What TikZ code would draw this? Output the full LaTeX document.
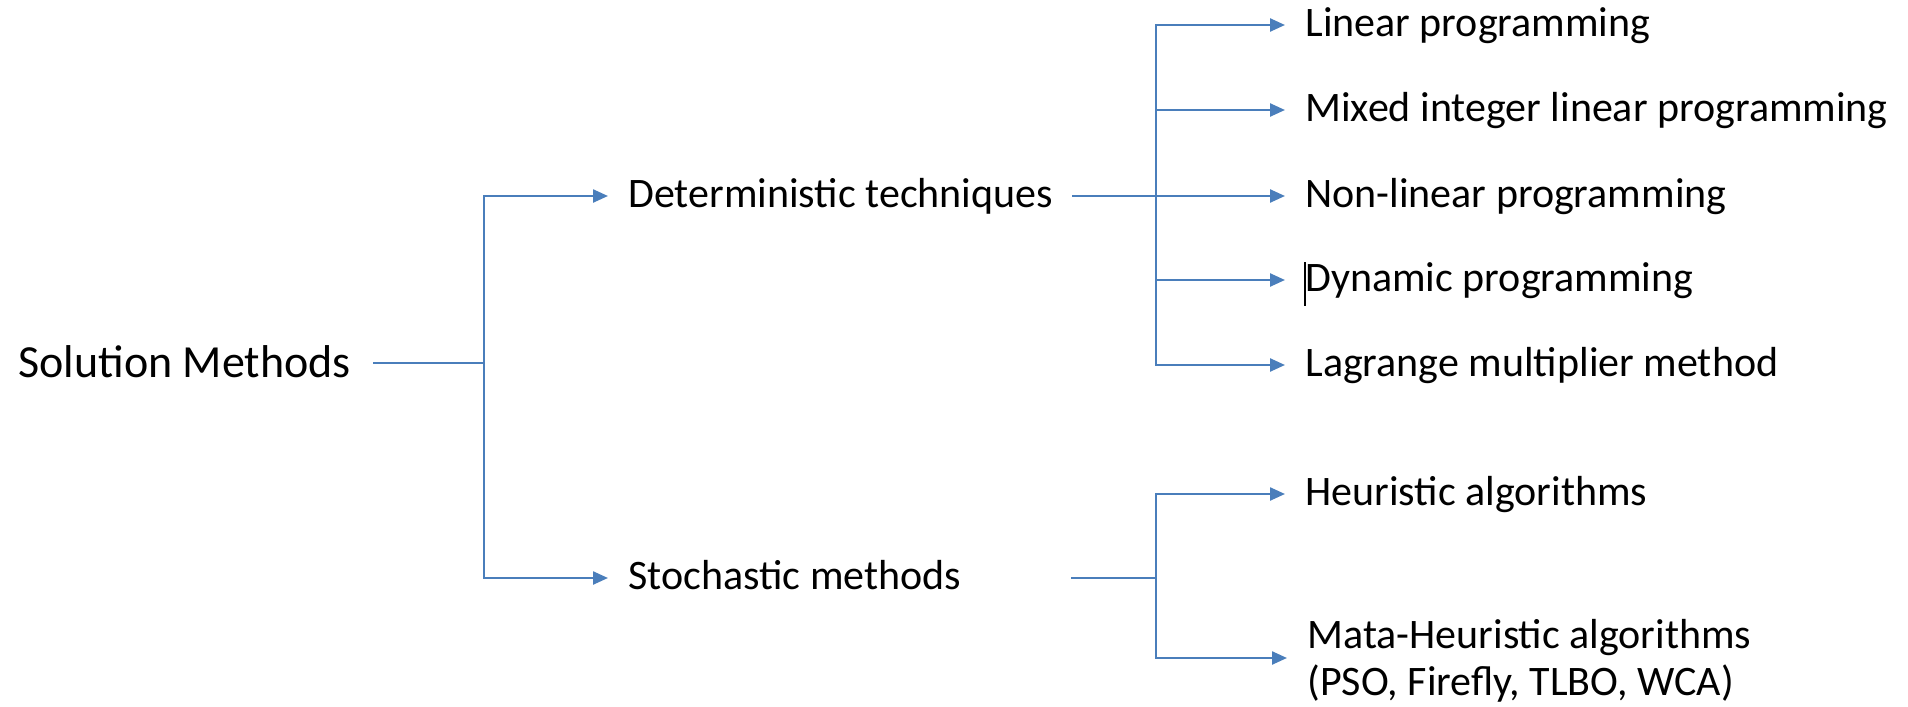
\documentclass[tikz,border=0pt]{standalone}
\usepackage{fontspec}
\setmainfont{Carlito}
\usetikzlibrary{arrows.meta}
\definecolor{conn}{RGB}{74,126,187}
\begin{document}
\begin{tikzpicture}[x=0.5pt,y=-0.5pt,
  lbl/.style={anchor=west,inner sep=0pt,text height=14pt,text depth=3pt,font=\fontsize{21}{26}\selectfont},
  multi/.style={anchor=base west,inner sep=0pt,align=left,font=\fontsize{21}{23.5}\selectfont},
  link/.style={draw=conn,line width=1.2pt},
  arr/.style={link,-{Triangle[length=7.5pt,width=6.5pt]},shorten >=10pt}]
\useasboundingbox (0,0) rectangle (1908,707);
\node[lbl,font=\fontsize{23}{28}\selectfont,text height=16pt,text depth=2pt] (sm) at (18,363) {Solution Methods};
\node[lbl] (det) at (628,196) {Deterministic techniques};
\node[lbl] (sto) at (628,578) {Stochastic methods};
\node[lbl] (lp) at (1305,25) {Linear programming};
\node[lbl] (mil) at (1305,110) {Mixed integer linear programming};
\node[lbl] (nlp) at (1305,196) {Non-linear programming};
\node[lbl] (dp) at (1305,280) {Dynamic programming};
\node[lbl] (lm) at (1305,365) {Lagrange multiplier method};
\node[lbl] (heu) at (1305,494) {Heuristic algorithms};
\node[multi] (meta) at (1307,695) {Mata-Heuristic algorithms\\(PSO, Firefly, TLBO, WCA)};
\coordinate (j1) at (484,363);
\coordinate (j2) at (1156,196);
\coordinate (j3) at (1156,578);
\draw[link] ([xshift=11pt]sm.east) -- (j1);
\draw[arr] (j1) |- (det.west);
\draw[arr] (j1) |- (sto.west);
\draw[link] ([xshift=9.5pt]det.east) -- (j2);
\foreach \n in {lp,mil,nlp,dp,lm} \draw[arr] (j2) |- (\n.west);
\draw[link] ([xshift=55pt]sto.east) -- (j3);
\draw[arr] (j3) |- (heu.west);
\draw[arr] (j3) |- ([yshift=18.5pt]meta.base west);
\draw[line width=0.6pt] ([yshift=9pt]dp.west) -- ([yshift=-13pt]dp.west);
\end{tikzpicture}
\end{document}
